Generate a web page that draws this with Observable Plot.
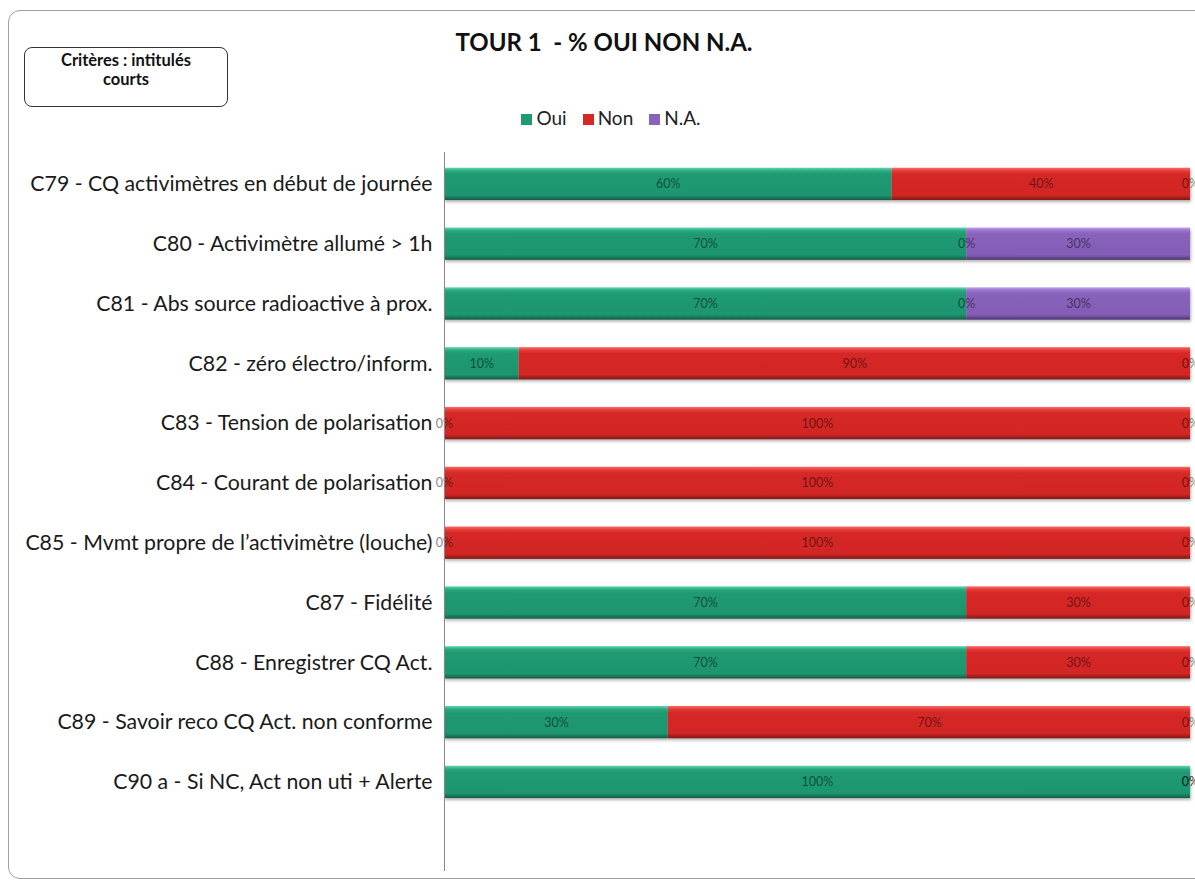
<!DOCTYPE html>
<html>
<head>
<meta charset="utf-8">
<script src="https://cdn.jsdelivr.net/npm/d3@7"></script>
<script src="https://cdn.jsdelivr.net/npm/@observablehq/plot@0.6"></script>
<style>
  html, body { margin: 0; padding: 0; background: #fff; overflow: hidden; }
  #root { position: relative; width: 1195px; height: 883px; overflow: hidden; font-family: Lato, "Open Sans", sans-serif; }
  #frame { position: absolute; left: 8px; top: 10px; width: 1400px; height: 869px; border: 1px solid #a0a0a0; border-radius: 12px; box-sizing: border-box; }
  #title { position: absolute; left: 0; width: 1208px; top: 27px; text-align: center; font-weight: bold; font-size: 24px; color: #111; }
  #box { position: absolute; left: 24px; top: 47px; width: 204px; height: 60px; border: 1px solid #333; border-radius: 8px; box-sizing: border-box; text-align: center; font-weight: bold; font-size: 16.5px; line-height: 19px; padding-top: 3px; color: #111; }
  #legend { position: absolute; left: 0; width: 1222px; top: 106px; text-align: center; font-size: 19px; color: #222; }
  #legend span.sw { display: inline-block; width: 11px; height: 11px; margin-right: 4px; vertical-align: 0px; }
  #legend span.it { margin: 0 8px; }
  #chart { position: absolute; left: 0; top: 0; }
</style>
</head>
<body>
<svg width="0" height="0" style="position:absolute">
  <defs>
    <linearGradient id="gOui" x1="0" y1="0" x2="0" y2="1">
      <stop offset="0" stop-color="#5fd8ad"/>
      <stop offset="0.1" stop-color="#2aa882"/>
      <stop offset="0.2" stop-color="#1f9a73"/>
      <stop offset="0.85" stop-color="#1c9570"/>
      <stop offset="1" stop-color="#135c46"/>
    </linearGradient>
    <linearGradient id="gNon" x1="0" y1="0" x2="0" y2="1">
      <stop offset="0" stop-color="#ff6a66"/>
      <stop offset="0.1" stop-color="#e23b37"/>
      <stop offset="0.2" stop-color="#d62826"/>
      <stop offset="0.85" stop-color="#d22624"/>
      <stop offset="1" stop-color="#7e1816"/>
    </linearGradient>
    <linearGradient id="gNA" x1="0" y1="0" x2="0" y2="1">
      <stop offset="0" stop-color="#c29cf0"/>
      <stop offset="0.1" stop-color="#9572c8"/>
      <stop offset="0.2" stop-color="#8862bb"/>
      <stop offset="0.85" stop-color="#835db5"/>
      <stop offset="1" stop-color="#4c3470"/>
    </linearGradient>
  </defs>
</svg>
<div id="root">
  <div id="frame"></div>
  <div id="chart"></div>
  <div id="title">TOUR 1&nbsp; - % OUI NON N.A.</div>
  <div id="box">Critères : intitulés<br>courts</div>
  <div id="legend"></div>
</div>
<script>
const criteria = [
  "C79 - CQ activimètres en début de journée",
  "C80 - Activimètre allumé > 1h",
  "C81 - Abs source radioactive à prox.",
  "C82 - zéro électro/inform.",
  "C83 - Tension de polarisation",
  "C84 - Courant de polarisation",
  "C85 - Mvmt propre de l’activimètre (louche)",
  "C87 - Fidélité",
  "C88 - Enregistrer CQ Act.",
  "C89 - Savoir reco CQ Act. non conforme",
  "C90 a - Si NC, Act non uti + Alerte"
];
const series = ["Oui", "Non", "N.A."];
const oui = [0.6, 0.7, 0.7, 0.1, 0, 0, 0, 0.7, 0.7, 0.3, 1.0];
const non = [0.4, 0, 0, 0.9, 1.0, 1.0, 1.0, 0.3, 0.3, 0.7, 0];
const na  = [0, 0.3, 0.3, 0, 0, 0, 0, 0, 0, 0, 0];
const seriesColors = ["#1f9a73", "#d62826", "#8862bb"];
const seriesFills = ["url(#gOui)", "url(#gNon)", "url(#gNA)"];

const values = [oui, non, na];
const data = [];
criteria.forEach((c, i) => {
  series.forEach((s, j) => data.push({crit: c, series: s, value: values[j][i]}));
});

const W = 1195, H = 883;
const top0 = 154, band = 59.8;
const chart = Plot.plot({
  width: W,
  height: H,
  marginLeft: 444,
  marginRight: 5,
  marginTop: 152,
  marginBottom: 12,
  style: {fontFamily: "Lato, 'Open Sans', sans-serif", background: "transparent", overflow: "visible"},
  x: {domain: [0, 1], axis: null},
  y: {domain: criteria, range: [top0, top0 + band * criteria.length], paddingInner: 0.46, paddingOuter: 0.23, round: false, label: null},
  color: {domain: series, range: seriesFills},
  marks: [
    Plot.barX(data, Plot.stackX({x: "value", y: "crit", fill: "series", order: series, inset: 0})),
    Plot.text(data, Plot.stackX({x: "value", y: "crit", z: "series", order: series,
      text: d => Math.round(d.value * 100) + "%", fontSize: 12.5, fill: "#000", fillOpacity: 0.5})),
    Plot.ruleX([0], {stroke: "#888", strokeWidth: 1}),
    Plot.axisY({tickSize: 0, tickPadding: 12, fontSize: 21.3, fill: "#1a1a1a"})
  ]
});
const barG = chart.querySelector('g[aria-label="bar"]');
if (barG) barG.style.filter = "drop-shadow(1px 2px 1.5px rgba(0,0,0,0.3))";
document.getElementById("chart").appendChild(chart);

const lg = document.getElementById("legend");
series.forEach((s, j) => {
  const it = document.createElement("span");
  it.className = "it";
  it.innerHTML = `<span class="sw" style="background:${seriesColors[j]}"></span>${s}`;
  lg.appendChild(it);
});
</script>
</body>
</html>
